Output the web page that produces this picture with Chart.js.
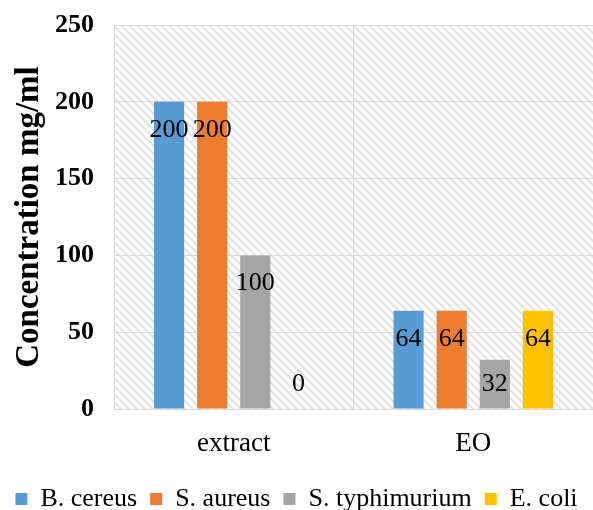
<!DOCTYPE html>
<html>
<head>
<meta charset="utf-8">
<script src="https://cdn.jsdelivr.net/npm/chart.js@4.4.1/dist/chart.umd.min.js"></script>
<style>
  html, body { margin: 0; padding: 0; background: #ffffff; }
  #wrap { width: 593px; height: 510px; position: relative; }
</style>
</head>
<body>
<div id="wrap"><canvas id="micChart"></canvas></div>
<script>
// Chart data
const categories = ['extract', 'EO'];
const seriesNames = ['B. cereus', 'S. aureus', 'S. typhimurium', 'E. coli'];
const bCereus = [200, 64];
const sAureus = [200, 64];
const sTyphimurium = [100, 32];
const eColi = [0, 64];
const seriesColors = ['#5b9bd5', '#ed7d31', '#a5a5a5', '#ffc000'];
const yTicks = [0, 50, 100, 150, 200, 250];

const FONT = '"Liberation Serif", "Times New Roman", serif';

// diagonal hatch for the plot background
function makeHatch() {
    const c = document.createElement('canvas');
    c.width = 8; c.height = 8;
    const g = c.getContext('2d');
    g.fillStyle = '#ffffff';
    g.fillRect(0, 0, 8, 8);
    g.strokeStyle = '#e4e4e4';
    g.lineWidth = 2.2;
    g.beginPath();
    g.moveTo(-2, -2); g.lineTo(10, 10);
    g.moveTo(-10, -2); g.lineTo(2, 10);
    g.moveTo(6, -2); g.lineTo(18, 10);
    g.stroke();
    return g.createPattern(c, 'repeat');
}

const hatchBackground = {
    id: 'hatchBackground',
    beforeDraw(chart) {
        const { ctx, chartArea: a } = chart;
        ctx.save();
        ctx.fillStyle = makeHatch();
        ctx.fillRect(a.left, a.top, a.right - a.left, a.bottom - a.top);
        ctx.restore();
    }
};

// push the legend a little lower, closer to the bottom edge
const legendNudge = {
    id: 'legendNudge',
    afterLayout(chart) {
        if (chart.legend) {
            chart.legend.top += 12;
            chart.legend.bottom += 12;
        }
    }
};

// value labels near the top of each bar
const barValues = {
    id: 'barValues',
    afterDatasetsDraw(chart) {
        const { ctx } = chart;
        const base = chart.scales.y.getPixelForValue(0);
        ctx.save();
        ctx.font = '26px ' + FONT;
        ctx.fillStyle = '#000000';
        ctx.textAlign = 'center';
        ctx.textBaseline = 'middle';
        chart.data.datasets.forEach((ds, i) => {
            chart.getDatasetMeta(i).data.forEach((bar, j) => {
                const y = Math.min(bar.y + 28, base - 25);
                ctx.fillText(String(ds.data[j]), bar.x, y);
            });
        });
        ctx.restore();
    }
};

const seriesData = [bCereus, sAureus, sTyphimurium, eColi];

new Chart(document.getElementById('micChart'), {
    type: 'bar',
    data: {
        labels: categories,
        datasets: seriesNames.map((name, i) => ({
            label: name,
            data: seriesData[i],
            backgroundColor: seriesColors[i],
            borderWidth: 0,
            barPercentage: 0.7,
            categoryPercentage: 0.72
        }))
    },
    options: {
        responsive: true,
        maintainAspectRatio: false,
        animation: false,
        layout: { padding: { top: 25, right: 0, left: 0, bottom: 0 } },
        scales: {
            y: {
                min: 0,
                max: 250,
                afterBuildTicks(scale) { scale.ticks = yTicks.map(v => ({ value: v })); },
                afterFit(scale) {
                    scale.width = 114;
                    scale.paddingTop = 0;
                    scale.paddingBottom = 0;
                },
                grid: { color: '#d9d9d9', lineWidth: 1, drawTicks: false },
                border: { color: '#d9d9d9' },
                ticks: {
                    color: '#000000',
                    padding: 20,
                    font: { family: FONT, size: 26, weight: 'bold' }
                },
                title: {
                    display: true,
                    text: 'Concentration mg/ml',
                    color: '#000000',
                    padding: { top: 10, bottom: 0 },
                    font: { family: FONT, size: 33, weight: 'bold' }
                }
            },
            x: {
                afterFit(scale) {
                    scale.height = 52;
                    scale.paddingLeft = 0;
                    scale.paddingRight = 0;
                },
                grid: {
                    color: (c) => c.index >= categories.length ? 'rgba(0,0,0,0)' : '#d9d9d9',
                    lineWidth: 1,
                    drawTicks: false,
                    offset: true
                },
                border: { color: '#d9d9d9' },
                ticks: {
                    color: '#000000',
                    padding: 19,
                    font: { family: FONT, size: 27 }
                }
            }
        },
        plugins: {
            legend: {
                position: 'bottom',
                labels: {
                    color: '#000000',
                    boxWidth: 12,
                    boxHeight: 12,
                    padding: 13,
                    font: { family: FONT, size: 26 }
                }
            },
            tooltip: { enabled: false }
        }
    },
    plugins: [hatchBackground, legendNudge, barValues]
});
</script>
</body>
</html>
